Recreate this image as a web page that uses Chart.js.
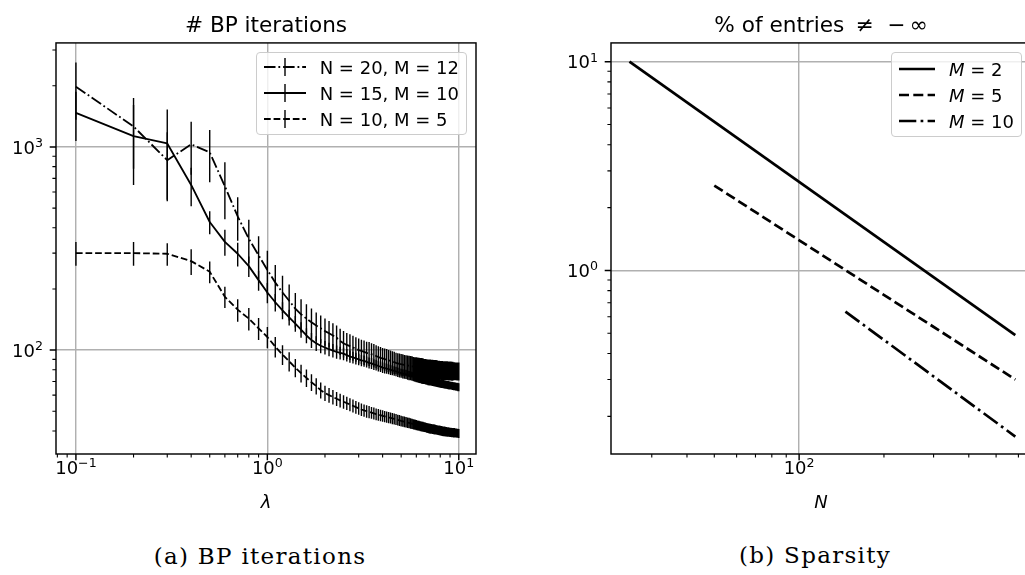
<!DOCTYPE html>
<html>
<head>
<meta charset="utf-8">
<script src="https://cdn.jsdelivr.net/npm/chart.js@4.4.1/dist/chart.umd.min.js"></script>
<style>
  html, body { margin: 0; padding: 0; background: #fff; }
  body { width: 1025px; height: 575px; overflow: hidden; position: relative; }
  .panel { position: absolute; top: 0; }
  .panel canvas { display: block; }
  .legend {
    position: absolute; background: rgba(255,255,255,0.8);
    border: 1.5px solid #cccccc; border-radius: 4px; padding: 6px 7px;
    font: 18px 'DejaVu Sans', sans-serif; color: #000;
  }
  #legendB { padding: 8px 7px 6px 7px; }
  .legend .row { display: flex; align-items: center; height: 17px; margin-bottom: 9px; white-space: nowrap; }
  .legend .row:last-child { margin-bottom: 0; }
  .legend svg { margin-right: 14px; flex: none; }
  .caption { position: absolute; width: 400px; text-align: center; font: 23px 'DejaVu Serif', serif; line-height: 26px; letter-spacing: 1.3px; color: #000; }
</style>
</head>
<body>
<div class="panel" id="panelA" style="left:0;width:500px;height:520px">
  <canvas id="bpChart" width="500" height="520"></canvas>
  <div class="legend" id="legendA"></div>
</div>
<div class="panel" id="panelB" style="left:530px;width:520px;height:520px">
  <canvas id="sparseChart" width="520" height="520"></canvas>
  <div class="legend" id="legendB"></div>
</div>
<div class="caption" style="left:60px;top:543px">(a) BP iterations</div>
<div class="caption" style="left:615px;top:542px">(b) Sparsity</div>

<script>
// ---- (a) BP iterations ----
const lambdas = [
  0.1, 0.2, 0.3, 0.4, 0.5, 0.6, 0.7, 0.8, 0.9, 1.0,
  1.1, 1.2, 1.3, 1.4, 1.5, 1.6, 1.7, 1.8, 1.9, 2.0,
  2.1, 2.2, 2.3, 2.4, 2.5, 2.6, 2.7, 2.8, 2.9, 3.0,
  3.1, 3.2, 3.3, 3.4, 3.5, 3.6, 3.7, 3.8, 3.9, 4.0,
  4.1, 4.2, 4.3, 4.4, 4.5, 4.6, 4.7, 4.8, 4.9, 5.0,
  5.1, 5.2, 5.3, 5.4, 5.5, 5.6, 5.7, 5.8, 5.9, 6.0,
  6.1, 6.2, 6.3, 6.4, 6.5, 6.6, 6.7, 6.8, 6.9, 7.0,
  7.1, 7.2, 7.3, 7.4, 7.5, 7.6, 7.7, 7.8, 7.9, 8.0,
  8.1, 8.2, 8.3, 8.4, 8.5, 8.6, 8.7, 8.8, 8.9, 9.0,
  9.1, 9.2, 9.3, 9.4, 9.5, 9.6, 9.7, 9.8, 9.9, 10.0
];

// N = 20, M = 12
const itersN20 = [
  1980, 1260, 860, 1030, 940, 640, 455, 353, 293, 248,
  215, 192, 175, 160, 150, 143, 137, 132, 128, 124,
  121, 118, 115, 111, 108, 106, 104.5, 103, 101.5, 100,
  99, 98, 97, 96.5, 95.5, 94.5, 93.5, 92.5, 91.5, 91,
  90.3, 89.6, 89, 88.5, 87.8, 87.2, 86.6, 86.1, 85.6, 85.2,
  84.9, 84.6, 84.3, 84, 83.7, 83.4, 83.2, 83, 82.8, 82.6,
  82.4, 82.2, 82, 81.8, 81.6, 81.4, 81.3, 81.1, 81, 80.9,
  80.8, 80.7, 80.6, 80.5, 80.4, 80.3, 80.2, 80.1, 80, 79.9,
  79.8, 79.8, 79.7, 79.6, 79.6, 79.5, 79.5, 79.4, 79.4, 79.3,
  79.3, 79.2, 79.2, 79.1, 79.1, 79, 79, 78.9, 78.9, 78.8
];
const errN20 = [
  620, 480, 320, 300, 270, 200, 110, 85, 70, 60,
  47, 40, 35, 31, 28, 25, 23, 21, 20, 19,
  18, 17.5, 17, 16.5, 16, 15.5, 15, 14.5, 14, 14,
  13.5, 13.5, 13, 13, 12.5, 12.5, 12, 12, 12, 11.5,
  11.5, 11.5, 11, 11, 11, 11, 10.5, 10.5, 10.5, 10.5,
  10.5, 10, 10, 10, 10, 10, 10, 9.5, 9.5, 9.5,
  9.5, 9.5, 9.5, 9.5, 9.5, 9, 9, 9, 9, 9,
  9, 9, 9, 9, 9, 9, 9, 8.5, 8.5, 8.5,
  8.5, 8.5, 8.5, 8.5, 8.5, 8.5, 8.5, 8.5, 8.5, 8.5,
  8.5, 8.5, 8.5, 8, 8, 8, 8, 8, 8, 8
];

// N = 15, M = 10
const itersN15 = [
  1470, 1130, 1040, 650, 427, 341, 298, 259, 221, 192,
  172, 157, 145, 135, 126, 118, 112, 108, 105, 103,
  101, 99.5, 98, 97, 96, 94.5, 93, 92, 91, 90,
  89, 88.5, 87.5, 86.5, 86, 85, 84.5, 83.5, 83, 82,
  81.5, 81, 80.5, 80, 79.5, 79, 78.5, 78, 77.5, 77,
  76.5, 76.3, 76, 75.5, 75, 74.8, 74.4, 74, 73.6, 73.2,
  72.9, 72.6, 72.3, 72, 71.8, 71.5, 71.2, 71, 70.7, 70.5,
  70.3, 70.1, 69.9, 69.7, 69.5, 69.3, 69.1, 68.9, 68.7, 68.5,
  68.3, 68.2, 68, 67.9, 67.7, 67.6, 67.4, 67.3, 67.1, 67,
  66.9, 66.8, 66.6, 66.5, 66.4, 66.2, 66.1, 66, 65.8, 65.7
];
const errN15 = [
  400, 480, 490, 140, 55, 50, 40, 30, 25, 22,
  17, 15, 13, 12, 11, 10, 9.5, 9, 8.5, 8,
  7.8, 7.5, 7.3, 7, 6.8, 6.6, 6.4, 6.2, 6, 5.8,
  5.7, 5.6, 5.5, 5.4, 5.3, 5.2, 5.1, 5, 4.9, 4.8,
  4.7, 4.6, 4.5, 4.5, 4.4, 4.3, 4.2, 4.2, 4.1, 4,
  4, 4, 4, 4, 4, 3.8, 3.8, 3.8, 3.8, 3.8,
  3.7, 3.7, 3.7, 3.7, 3.7, 3.5, 3.5, 3.5, 3.5, 3.5,
  3.4, 3.4, 3.4, 3.4, 3.4, 3.3, 3.3, 3.3, 3.3, 3.3,
  3.2, 3.2, 3.2, 3.2, 3.2, 3.1, 3.1, 3.1, 3.1, 3.1,
  3, 3, 3, 3, 3, 3, 3, 3, 3, 3
];

// N = 10, M = 5
const itersN10 = [
  300, 300, 298, 274, 243, 183, 158, 143, 128, 116,
  104, 95, 88, 82, 77, 73, 69.5, 66.5, 63.5, 61.5,
  60, 58.8, 57.6, 56.6, 55.7, 54.8, 54, 53.2, 52.4, 51.7,
  51, 50.5, 50, 49.6, 49.2, 48.8, 48.4, 48.1, 47.8, 47.5,
  47.2, 46.9, 46.6, 46.4, 46.1, 45.9, 45.6, 45.3, 45.1, 44.8,
  44.6, 44.4, 44.2, 44, 43.8, 43.6, 43.4, 43.2, 43, 42.8,
  42.6, 42.5, 42.3, 42.1, 42, 41.8, 41.7, 41.5, 41.4, 41.2,
  41.1, 41, 40.9, 40.8, 40.7, 40.6, 40.5, 40.4, 40.3, 40.2,
  40.1, 40, 39.9, 39.9, 39.8, 39.7, 39.6, 39.6, 39.5, 39.4,
  39.4, 39.3, 39.3, 39.2, 39.2, 39.1, 39.1, 39, 39, 38.9
];
const errN10 = [
  40, 40, 38, 40, 30, 22, 20, 18, 16, 14,
  12, 10.5, 9.5, 8.5, 7.8, 7.2, 6.6, 6.1, 5.7, 5.3,
  5, 4.8, 4.6, 4.4, 4.2, 4.1, 4, 3.9, 3.8, 3.7,
  3.6, 3.5, 3.5, 3.4, 3.3, 3.3, 3.2, 3.2, 3.1, 3.1,
  3, 3, 3, 2.9, 2.9, 2.9, 2.8, 2.8, 2.8, 2.7,
  2.7, 2.7, 2.6, 2.6, 2.6, 2.6, 2.5, 2.5, 2.5, 2.5,
  2.4, 2.4, 2.4, 2.4, 2.4, 2.3, 2.3, 2.3, 2.3, 2.3,
  2.3, 2.3, 2.3, 2.3, 2.3, 2.2, 2.2, 2.2, 2.2, 2.2,
  2.2, 2.2, 2.2, 2.2, 2.2, 2.1, 2.1, 2.1, 2.1, 2.1,
  2.1, 2.1, 2.1, 2.1, 2.1, 2, 2, 2, 2, 2
];

// tick labels as base^exponent
const bpXMajor = [0.1, 1, 10];
const bpXLabels = ['10^\u22121', '10^0', '10^1'];
const bpXMinor = [0.08, 0.09, 0.2, 0.3, 0.4, 0.5, 0.6, 0.7, 0.8, 0.9, 2, 3, 4, 5, 6, 7, 8, 9];
const bpYMajor = [100, 1000];
const bpYLabels = ['10^2', '10^3'];
const bpYMinor = [40, 50, 60, 70, 80, 90, 200, 300, 400, 500, 600, 700, 800, 900, 2000, 3000];

// ---- (b) Sparsity ----
const sizesM2 = [25, 585];
const pctM2 = [10.0, 0.49];
const sizesM5 = [50, 585];
const pctM5 = [2.55, 0.30];
const sizesM10 = [146, 585];
const pctM10 = [0.635, 0.16];

const spXMajor = [100];
const spXLabels = ['10^2'];
const spXMinor = [30, 40, 50, 60, 70, 80, 90, 200, 300, 400, 500, 600];
const spYMajor = [1, 10];
const spYLabels = ['10^0', '10^1'];
const spYMinor = [0.2, 0.3, 0.4, 0.5, 0.6, 0.7, 0.8, 0.9, 2, 3, 4, 5, 6, 7, 8, 9];

const FONT = "'DejaVu Sans', sans-serif";

function pts(xs, ys) {
  return xs.map((x, i) => ({x: x, y: ys[i]}));
}

// vertical error bars as broken line segments
function errSegments(xs, ys, es) {
  const out = [];
  xs.forEach((x, i) => {
    out.push({x: x, y: ys[i] - es[i]}, {x: x, y: ys[i] + es[i]}, {x: x, y: null});
  });
  return out;
}

// "10^3" -> 10 with a raised exponent
function drawPow(ctx, label, x, y, align) {
  const parts = label.split('^');
  ctx.font = '18px ' + FONT;
  const wb = ctx.measureText(parts[0]).width;
  ctx.font = '12.6px ' + FONT;
  const we = ctx.measureText(parts[1]).width;
  const x0 = align === 'center' ? x - (wb + we) / 2 : x - (wb + we);
  ctx.textAlign = 'left';
  ctx.textBaseline = 'alphabetic';
  ctx.font = '18px ' + FONT;
  ctx.fillText(parts[0], x0, y);
  ctx.font = '12.6px ' + FONT;
  ctx.fillText(parts[1], x0 + wb, y - 6.8);
}

// frame, tick marks (major + minor), tick labels
const framePlugin = {
  id: 'frame',
  afterDatasetsDraw(chart, args, opts) {
    const {ctx, chartArea: a, scales} = chart;
    ctx.save();
    ctx.strokeStyle = '#000';
    ctx.fillStyle = '#000';
    ctx.lineWidth = 1.1;
    ctx.beginPath();
    opts.xMinor.forEach(v => {
      const x = scales.x.getPixelForValue(v);
      ctx.moveTo(x, a.bottom); ctx.lineTo(x, a.bottom + 3.6);
    });
    opts.yMinor.forEach(v => {
      const y = scales.y.getPixelForValue(v);
      ctx.moveTo(a.left, y); ctx.lineTo(a.left - 3.6, y);
    });
    ctx.stroke();
    ctx.lineWidth = 1.44;
    ctx.beginPath();
    opts.xMajor.forEach((v, i) => {
      const x = scales.x.getPixelForValue(v);
      ctx.moveTo(x, a.bottom); ctx.lineTo(x, a.bottom + 6.3);
    });
    opts.yMajor.forEach((v, i) => {
      const y = scales.y.getPixelForValue(v);
      ctx.moveTo(a.left, y); ctx.lineTo(a.left - 6.3, y);
    });
    ctx.stroke();
    ctx.strokeRect(a.left, a.top, a.width, a.height);
    opts.xMajor.forEach((v, i) => {
      drawPow(ctx, opts.xLabels[i], scales.x.getPixelForValue(v), a.bottom + 19.5, 'center');
    });
    opts.yMajor.forEach((v, i) => {
      drawPow(ctx, opts.yLabels[i], a.left - 13, scales.y.getPixelForValue(v) + 6.8, 'right');
    });
    ctx.restore();
  }
};

// legend box inside the axes, upper right
function sample(ds, w, bar) {
  const ns = 'http://www.w3.org/2000/svg';
  const svg = document.createElementNS(ns, 'svg');
  svg.setAttribute('width', w);
  svg.setAttribute('height', 18);
  const line = document.createElementNS(ns, 'line');
  line.setAttribute('x1', 0); line.setAttribute('y1', 9);
  line.setAttribute('x2', w); line.setAttribute('y2', 9);
  line.setAttribute('stroke', '#000');
  line.setAttribute('stroke-width', ds.borderWidth);
  if (ds.borderDash) line.setAttribute('stroke-dasharray', ds.borderDash.join(' '));
  svg.appendChild(line);
  if (bar) {
    const v = document.createElementNS(ns, 'line');
    v.setAttribute('x1', w / 2); v.setAttribute('y1', 0);
    v.setAttribute('x2', w / 2); v.setAttribute('y2', 18);
    v.setAttribute('stroke', '#000');
    v.setAttribute('stroke-width', 1.4);
    svg.appendChild(v);
  }
  return svg;
}

const htmlLegend = {
  id: 'htmlLegend',
  afterUpdate(chart, args, opts) {
    const box = document.getElementById(opts.boxId);
    box.innerHTML = '';
    chart.data.datasets.forEach(ds => {
      if (!ds.label) return;
      const row = document.createElement('div');
      row.className = 'row';
      row.appendChild(sample(ds, opts.handle, opts.bar));
      const span = document.createElement('span');
      span.innerHTML = opts.italic ? ds.label.replace(/^M/, '<i>M</i>') : ds.label;
      row.appendChild(span);
      box.appendChild(row);
    });
    const a = chart.chartArea;
    box.style.right = (chart.width - a.right + 9) + 'px';
    box.style.top = (a.top + 9) + 'px';
  }
};

function logAxis(min, max, major, extra) {
  return Object.assign({
    type: 'logarithmic',
    min: min,
    max: max,
    afterBuildTicks: s => { s.ticks = major.map(v => ({value: v, major: true})); },
    grid: { color: '#b0b0b0', lineWidth: 1.44, drawTicks: false },
    border: { display: false },
    ticks: { display: false, autoSkip: false }
  }, extra);
}

const lineBase = { pointRadius: 0, fill: false, tension: 0, borderColor: '#000', borderJoinStyle: 'round', spanGaps: false };

new Chart(document.getElementById('bpChart'), {
  type: 'line',
  data: {
    datasets: [
      Object.assign({ label: 'N = 20, M = 12', data: pts(lambdas, itersN20), borderWidth: 1.8, borderDash: [11.5, 2.9, 1.8, 2.9] }, lineBase),
      Object.assign({ label: 'N = 15, M = 10', data: pts(lambdas, itersN15), borderWidth: 1.8 }, lineBase),
      Object.assign({ label: 'N = 10, M = 5', data: pts(lambdas, itersN10), borderWidth: 1.8, borderDash: [6.7, 2.9] }, lineBase),
      Object.assign({ label: '', data: errSegments(lambdas, itersN20, errN20), borderWidth: 1.4 }, lineBase),
      Object.assign({ label: '', data: errSegments(lambdas, itersN15, errN15), borderWidth: 1.4 }, lineBase),
      Object.assign({ label: '', data: errSegments(lambdas, itersN10, errN10), borderWidth: 1.4 }, lineBase)
    ]
  },
  options: {
    responsive: false,
    animation: false,
    layout: { padding: { top: 0, left: 0, right: 24, bottom: 6 } },
    scales: {
      x: logAxis(0.0787, 12.3, bpXMajor, {
        afterFit: s => { s.height = 60; },
        title: { display: true, text: '\u03BB', color: '#000', font: { family: FONT, size: 18, style: 'italic' }, padding: 0 }
      }),
      y: logAxis(30.8, 3250, bpYMajor, {
        afterFit: s => { s.width = 56; }
      })
    },
    plugins: {
      legend: { display: false },
      tooltip: { enabled: false },
      title: {
        display: true, fullSize: false, text: '# BP iterations', color: '#000',
        font: { family: FONT, size: 21.6, weight: 'normal' },
        padding: { top: 13, bottom: 4 }
      },
      frame: { xMajor: bpXMajor, xLabels: bpXLabels, xMinor: bpXMinor, yMajor: bpYMajor, yLabels: bpYLabels, yMinor: bpYMinor },
      htmlLegend: { boxId: 'legendA', handle: 42, bar: true }
    }
  },
  plugins: [framePlugin, htmlLegend]
});

new Chart(document.getElementById('sparseChart'), {
  type: 'line',
  data: {
    datasets: [
      Object.assign({ label: 'M = 2', data: pts(sizesM2, pctM2), borderWidth: 2.7 }, lineBase),
      Object.assign({ label: 'M = 5', data: pts(sizesM5, pctM5), borderWidth: 2.7, borderDash: [10, 4.3] }, lineBase),
      Object.assign({ label: 'M = 10', data: pts(sizesM10, pctM10), borderWidth: 2.7, borderDash: [17.3, 4.3, 2.7, 4.3] }, lineBase)
    ]
  },
  options: {
    responsive: false,
    animation: false,
    layout: { padding: { top: 0, left: 0, right: 19, bottom: 6 } },
    scales: {
      x: logAxis(21.5, 665, spXMajor, {
        afterFit: s => { s.height = 60; },
        title: { display: true, text: 'N', color: '#000', font: { family: FONT, size: 18, style: 'italic' }, padding: 0 }
      }),
      y: logAxis(0.132, 12.3, spYMajor, {
        afterFit: s => { s.width = 81; }
      })
    },
    plugins: {
      legend: { display: false },
      tooltip: { enabled: false },
      title: {
        display: true, fullSize: false, text: '% of entries \u2009\u2260  \u2212\u2009\u221E', color: '#000',
        font: { family: FONT, size: 21.6, weight: 'normal' },
        padding: { top: 13, bottom: 4 }
      },
      frame: { xMajor: spXMajor, xLabels: spXLabels, xMinor: spXMinor, yMajor: spYMajor, yLabels: spYLabels, yMinor: spYMinor },
      htmlLegend: { boxId: 'legendB', handle: 36, bar: false, italic: true }
    }
  },
  plugins: [framePlugin, htmlLegend]
});
</script>
</body>
</html>
